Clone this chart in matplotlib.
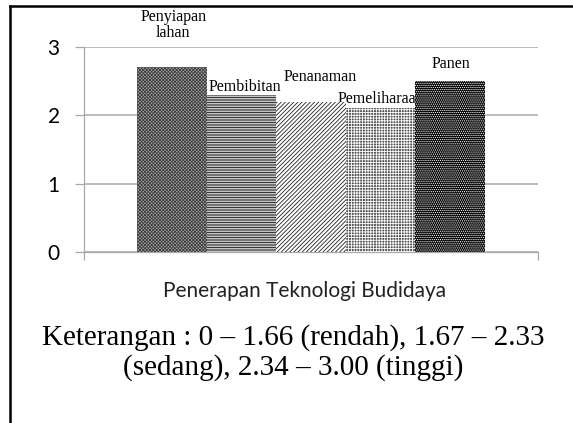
import matplotlib
matplotlib.use("Agg")
import matplotlib.pyplot as plt
import numpy as np
from matplotlib.lines import Line2D

# ---- data ----
series = ["Penyiapan\nlahan", "Pembibitan", "Penanaman", "Pemeliharaan", "Panen"]
values = [2.7, 2.3, 2.2, 2.1, 2.5]
category = "Penerapan Teknologi Budidaya"
yticks = [0, 1, 2, 3]
note_lines = ["Keterangan : 0 \u2013 1.66 (rendah), 1.67 \u2013 2.33",
              "(sedang), 2.34 \u2013 3.00 (tinggi)"]

# ---- styles ----
faces = ["#a8a8a8", "white", "white", "#555555", "#000000"]
hatch_cols = ["#3c3c3c", "#111111", "#222222", "white", "white"]
hatches = ["x" * 10, "-" * 10, "/" * 8, "+" * 6, "." * 8]
# label offsets in pixels (dx, dy) relative to bar top centre, and alignment
label_off = [(1.5, 31, "center"), (3.5, 4, "center"), (9, 21, "center"),
             (-43, 6, "left"), (1, 13, "center")]

W, H = 573, 423
fig = plt.figure(figsize=(W / 100, H / 100), dpi=100)
plt.rcParams["hatch.linewidth"] = 0.6

ax = fig.add_axes([84 / W, (H - 252) / H, (538 - 84) / W, (252 - 47) / H])
grid_c = "#a9a9a9"

n = len(values)
bw = 69.6 / 454
xpos = (np.arange(n) - (n - 1) / 2) * bw
for i in range(n):
    ax.bar(xpos[i], values[i], width=bw, color=faces[i], edgecolor=hatch_cols[i],
           hatch=hatches[i], linewidth=0, zorder=3)

px2pt = 0.72
for i in range(n):
    dx, dy, ha = label_off[i]
    ax.annotate(series[i], xy=(xpos[i], values[i]), xytext=(dx * px2pt, dy * px2pt),
                textcoords="offset points", ha=ha, va="baseline",
                family="Liberation Serif", fontsize=11.5, linespacing=1.0,
                zorder=2 if i == 3 else 4)

ax.set_xlim(-0.5, 0.5)
ax.set_ylim(0, 3)
ax.set_yticks(yticks)
ax.set_yticklabels([str(t) for t in yticks], family="Lato", fontsize=15)
ax.set_xticks([-0.5, 0.5])
ax.set_xticklabels([])
ax.yaxis.grid(True, color=grid_c, linewidth=1.1)
ax.set_axisbelow(True)
ax.tick_params(axis="y", direction="out", length=6.5, width=0.9, color=grid_c, pad=11)
ax.tick_params(axis="x", direction="out", length=6, width=0.9, color=grid_c)
for s in ["top", "right"]:
    ax.spines[s].set_visible(False)
for s in ["left", "bottom"]:
    ax.spines[s].set_color(grid_c)
    ax.spines[s].set_linewidth(0.9)

fig.text(305 / W, (H - 297) / H, category, ha="center", va="baseline",
         family="Lato", fontsize=15, color="#222222")
fig.text(293 / W, (H - 345) / H, note_lines[0], ha="center", va="baseline",
         family="Liberation Serif", fontsize=21)
fig.text(293 / W, (H - 375) / H, note_lines[1], ha="center", va="baseline",
         family="Liberation Serif", fontsize=21)

# outer frame (left and top edges visible)
fig.add_artist(Line2D([9.5 / W, 9.5 / W], [0, (H - 6) / H], transform=fig.transFigure,
                      color="black", linewidth=1.8))
fig.add_artist(Line2D([9.5 / W, 1], [(H - 6) / H, (H - 6) / H], transform=fig.transFigure,
                      color="black", linewidth=1.8))

fig.savefig("out.png", dpi=100)
